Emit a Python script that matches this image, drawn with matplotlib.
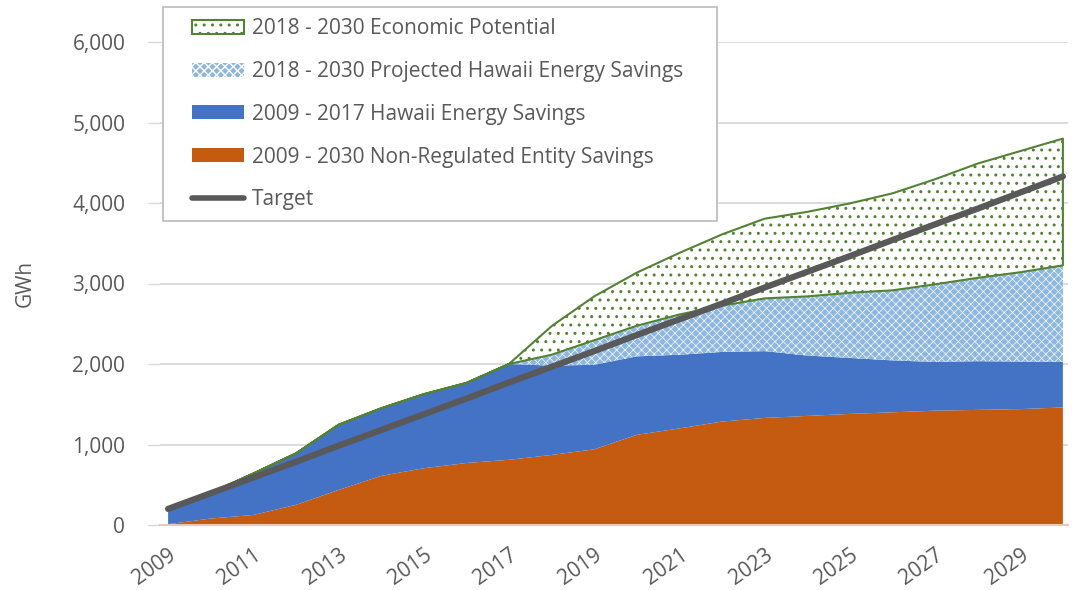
from matplotlib import pyplot as plt
from matplotlib.patches import Patch, Rectangle
from matplotlib.lines import Line2D
from matplotlib.ticker import FuncFormatter
import numpy as np

plt.rcParams['font.family'] = ['Open Sans', 'DejaVu Sans']

years = np.arange(2009, 2031)

# GWh (stacked series, bottom to top)
non_regulated = [10, 80, 125, 250, 435, 610, 705, 770, 810, 870, 940,
                 1120, 1200, 1285, 1330, 1355, 1380, 1400, 1420, 1430, 1440, 1460]
he_2009_2017 = [180, 320, 515, 640, 810, 840, 920, 995, 1190, 1110, 1050,
                975, 915, 865, 830, 750, 695, 645, 605, 605, 590, 565]
he_projected = [0, 0, 0, 0, 0, 0, 0, 0, 0, 135, 305,
                380, 500, 575, 655, 735, 810, 870, 965, 1035, 1110, 1200]
econ_potential = [0, 0, 0, 0, 0, 0, 0, 0, 0, 355, 545,
                  660, 765, 885, 990, 1050, 1110, 1205, 1305, 1420, 1505, 1575]
target = [200, 395, 590, 785, 985, 1180, 1375, 1570, 1770, 1965, 2160,
          2360, 2555, 2750, 2950, 3145, 3340, 3540, 3735, 3930, 4130, 4330]

labels = ['2018 - 2030 Economic Potential',
          '2018 - 2030 Projected Hawaii Energy Savings',
          '2009 - 2017 Hawaii Energy Savings',
          '2009 - 2030 Non-Regulated Entity Savings',
          'Target']

c_orange = '#C55A11'
c_blue = '#4472C4'
c_light = '#8DB6E0'
c_green = '#548235'
c_target = '#595959'
c_text = '#595959'
c_grid = '#D9D9D9'

s1 = np.array(non_regulated)
s2 = s1 + np.array(he_2009_2017)
s3 = s2 + np.array(he_projected)
s4 = s3 + np.array(econ_potential)

fig = plt.figure(figsize=(10.73, 5.90), dpi=100)
ax = fig.add_axes([160/1073, 1-525/590, (1068-160)/1073, (525-42)/590])

ax.fill_between(years, 0, s1, facecolor=c_orange, linewidth=0, zorder=2)
ax.fill_between(years, s1, s2, facecolor=c_blue, linewidth=0, zorder=2)
with plt.rc_context({'hatch.linewidth': 0.5}):
    ax.fill_between(years, s2, s3, facecolor=c_light, edgecolor='white', hatch='xxxx',
                    linewidth=0, zorder=2)
    light_handle = Patch(facecolor=c_light, edgecolor='white', hatch='xxxx', linewidth=0)
with plt.rc_context({'hatch.linewidth': 1.0}):
    ax.fill_between(years, s3, s4, facecolor='white', edgecolor=c_green, hatch='..',
                    linewidth=1.5, zorder=3)
    econ_handle = Patch(facecolor='white', edgecolor=c_green, hatch='..', linewidth=1.5)
ax.plot(years, target, color=c_target, linewidth=4.5, solid_capstyle='round', zorder=4)

ax.set_xlim(2008.81, 2030.12)
ax.set_ylim(0, 6000)
ax.set_yticks(np.arange(0, 6001, 1000))
ax.yaxis.set_major_formatter(FuncFormatter(lambda v, p: '{:,.0f}'.format(v)))
ax.set_xticks(years[::2])
ax.set_xticklabels([str(y) for y in years[::2]], rotation=35, ha='right',
                   rotation_mode='anchor')
ax.tick_params(axis='x', length=0, pad=14, labelsize=15, labelcolor=c_text)
ax.tick_params(axis='y', length=9, width=1, color=c_grid, pad=16, labelsize=15,
               labelcolor=c_text)
ax.grid(axis='y', color=c_grid, linewidth=1.3)
ax.set_axisbelow(True)
for side in ['top', 'right', 'left']:
    ax.spines[side].set_visible(False)
ax.spines['bottom'].set_color('#E8C8B8')
ax.spines['bottom'].set_linewidth(1.5)
ax.spines['bottom'].set_zorder(5)
ax.set_ylabel('GWh', fontsize=15, color=c_text, labelpad=26)

# legend box
fig.patches.append(Rectangle((163/1073, 1-221/590), (717-163)/1073, (221-7)/590,
                             transform=fig.transFigure, facecolor='white',
                             edgecolor='#BFBFBF', linewidth=1.3, zorder=5))
handles = [econ_handle, light_handle,
           Patch(facecolor=c_blue),
           Patch(facecolor=c_orange),
           Line2D([], [], color=c_target, linewidth=4, solid_capstyle='round')]
leg = fig.legend(handles, labels, loc='upper left', bbox_to_anchor=(192/1073, 1-18/590),
                 frameon=False, fontsize=15, handlelength=2.5, handleheight=0.65,
                 handletextpad=0.38, labelspacing=1.05, borderpad=0, borderaxespad=0)
leg.set_zorder(6)
for t in leg.get_texts():
    t.set_color(c_text)

plt.savefig('out.png', dpi=100)
